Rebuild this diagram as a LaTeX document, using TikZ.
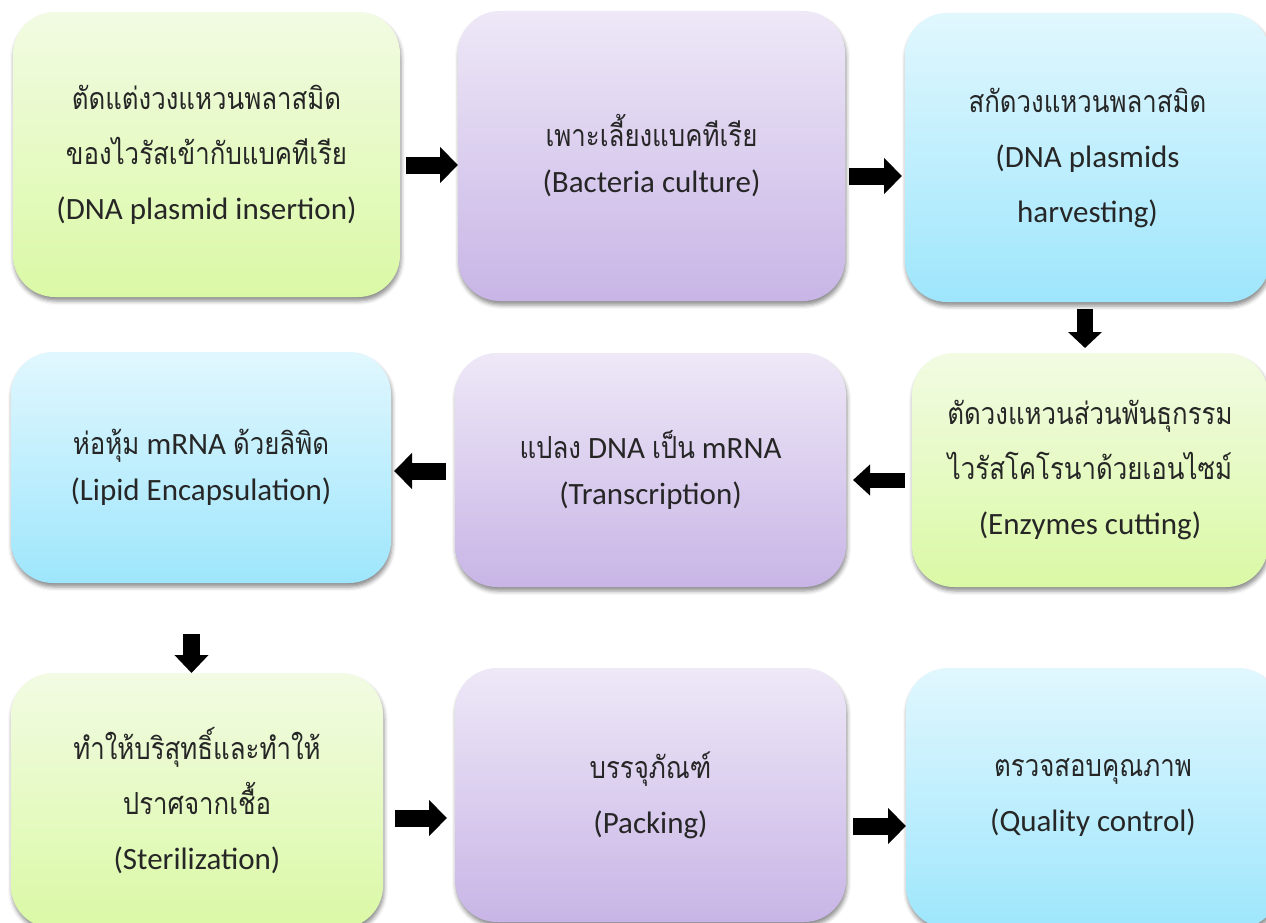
\documentclass[tikz,border=0pt]{standalone}
\usepackage{fontspec}
\setmainfont{Carlito}
\newfontfamily\thaifont[Script=Thai, FakeStretch=0.85, Scale=0.98]{Loma}
\usetikzlibrary{arrows.meta,shadows.blur}

\definecolor{grnT}{HTML}{F2FBE3}
\definecolor{grnB}{HTML}{DAF9A5}
\definecolor{prpT}{HTML}{EEE8F7}
\definecolor{prpB}{HTML}{C8B5E6}
\definecolor{bluT}{HTML}{E1F7FE}
\definecolor{bluB}{HTML}{9EE6FC}

\tikzset{
  stepbox/.style={rounded corners=42pt, inner sep=0pt, outer sep=0pt,
    align=center, text=black!85,
    font=\fontsize{31}{55}\selectfont,
    blur shadow={shadow xshift=1pt, shadow yshift=-4pt,
      shadow blur radius=4pt, shadow opacity=45}},
  tight/.style={font=\fontsize{31}{46}\selectfont},
  green/.style={stepbox, top color=grnT, bottom color=grnB},
  purple/.style={stepbox, top color=prpT, bottom color=prpB},
  blue/.style={stepbox, top color=bluT, bottom color=bluB},
  blk/.style={draw=black, line width=17pt,
    -{Triangle[width=35pt,length=18pt]}},
}

\begin{document}
\begin{tikzpicture}[x=1pt,y=1pt]
\useasboundingbox (0,0) rectangle (1266,-923);
\clip (0,0) rectangle (1266,-923);

% first row
\node[green, minimum width=387, minimum height=285] (b1) at (206.5,-154.5)
  {{\thaifont ตัดแต่งวงแหวนพลาสมิด}\\{\thaifont ของไวรัสเข้ากับแบคทีเรีย}\\(DNA plasmid insertion)};
\node[purple, tight, minimum width=387, minimum height=290] (b2) at (651.5,-156)
  {{\thaifont เพาะเลี้ยงแบคทีเรีย}\\(Bacteria culture)};
\node[blue, minimum width=365, minimum height=289] (b3) at (1087.5,-157.5)
  {{\thaifont สกัดวงแหวนพลาสมิด}\\(DNA plasmids\\harvesting)};

% second row
\node[blue, tight, minimum width=380, minimum height=231] (b4) at (201,-467.5)
  {{\thaifont ห่อหุ้ม} mRNA {\thaifont ด้วยลิพิด}\\(Lipid Encapsulation)};
\node[purple, tight, minimum width=391, minimum height=234] (b5) at (650.5,-470)
  {{\thaifont แปลง} DNA {\thaifont เป็น} mRNA\\(Transcription)};
\node[green, minimum width=356, minimum height=234] (b6) at (1090,-470)
  {{\thaifont ตัดวงแหวนส่วนพันธุกรรม}\\{\thaifont ไวรัสโคโรนาด้วยเอนไซม์}\\(Enzymes cutting)};

% third row
\node[green, minimum width=372, minimum height=255] (b7) at (197,-800.5)
  {{\thaifont ทำให้บริสุทธิ์และทำให้}\\{\thaifont ปราศจากเชื้อ}\\(Sterilization)};
\node[purple, minimum width=391, minimum height=254] (b8) at (650.5,-795)
  {{\thaifont บรรจุภัณฑ์}\\(Packing)};
\node[blue, minimum width=374, minimum height=260] (b9) at (1093,-798)
  {{\thaifont ตรวจสอบคุณภาพ}\\(Quality control)};

% block arrows between the steps
\draw[blk, shorten <=6pt] ([yshift=-10.5pt]b1.east) -- ([yshift=-9pt]b2.west);
\draw[blk, shorten <=4pt, shorten >=3pt] ([yshift=-20pt]b2.east) -- ([yshift=-18.5pt]b3.west);
\draw[blk, line width=16pt, -{Triangle[width=33pt,length=16pt]}, shorten <=7pt, shorten >=5pt]
  ([xshift=-2.5pt]b3.south) -- ([xshift=-5pt]b6.north);
\draw[blk, line width=15pt, -{Triangle[width=30pt,length=17pt]}, shorten <=7pt, shorten >=7pt]
  ([yshift=-10pt]b6.west) -- ([yshift=-10pt]b5.east);
\draw[blk, shorten <=9pt, shorten >=3pt] ([yshift=-1pt]b5.west) -- ([yshift=-3.5pt]b4.east);
\draw[blk, line width=17pt, -{Triangle[width=33pt,length=18pt]}, shorten <=51pt]
  ([xshift=-9.5pt]b4.south) -- ([xshift=-5.5pt]b7.north);
\draw[blk, shorten <=12pt, shorten >=8pt] ([yshift=-17.5pt]b7.east) -- ([yshift=-23pt]b8.west);
\draw[blk, shorten <=7pt] ([yshift=-31pt]b8.east) -- ([yshift=-28pt]b9.west);
\end{tikzpicture}
\end{document}
